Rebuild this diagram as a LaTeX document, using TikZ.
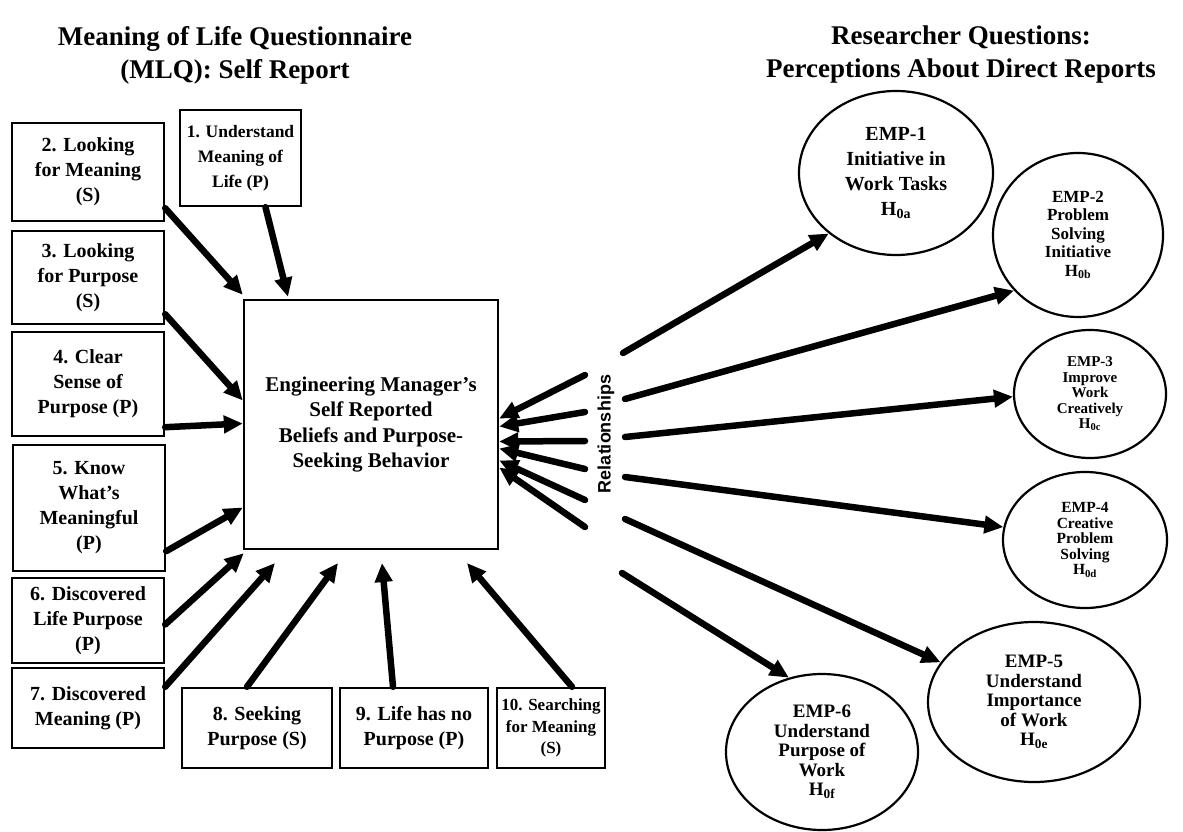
\documentclass[tikz,border=0pt]{standalone}
\usepackage{fontspec}
\setmainfont{Liberation Serif}
\newfontfamily\relfont{Liberation Sans}
\usetikzlibrary{arrows.meta,shapes.geometric}

\begin{document}
\begin{tikzpicture}[x=1pt,y=-1pt,
  qbox/.style={draw, line width=2.4pt, align=center, inner sep=0pt,
    font=\bfseries\fontsize{20}{25}\selectfont},
  emp/.style={draw, ellipse, line width=2.2pt, align=center, inner sep=0pt},
  link/.style={line width=6.5pt, line cap=round,
    -{Triangle[length=19pt,width=17pt]}},
  heading/.style={align=center, font=\bfseries\fontsize{27}{33}\selectfont}
]
\useasboundingbox (0,0) rectangle (1183,832);

% headings
\node[heading] (tl) at (235,55) {Meaning of Life Questionnaire\\(MLQ): Self Report};
\node[heading] (tr) at (961,55) {Researcher Questions:\\Perceptions About Direct Reports};

% central construct
\node[draw, line width=2.4pt, minimum width=254pt, minimum height=249pt,
  inner sep=0pt, align=center, font=\bfseries\fontsize{21}{25.5}\selectfont]
  (mgr) at (371,424.5)
  {Engineering Manager's\\Self Reported\\Beliefs and Purpose-\\Seeking Behavior};

% MLQ items
\node[qbox, minimum width=121pt, minimum height=96pt,
  font=\bfseries\fontsize{17.5}{25}\selectfont]        (b1) at (240.5,158) {1. Understand\\Meaning of\\Life (P)};
\node[qbox, minimum width=152pt, minimum height=98pt]  (b2) at (88,172)    {2. Looking\\for Meaning\\(S)};
\node[qbox, minimum width=152pt, minimum height=93pt]  (b3) at (88,277.5)  {3. Looking\\for Purpose\\(S)};
\node[qbox, minimum width=152pt, minimum height=104pt] (b4) at (88,384)    {4. Clear\\Sense of\\Purpose (P)};
\node[qbox, minimum width=152pt, minimum height=126pt] (b5) at (89,508)    {5. Know\\What's\\Meaningful\\(P)};
\node[qbox, minimum width=152pt, minimum height=85pt]  (b6) at (88,620.5)  {6. Discovered\\Life Purpose\\(P)};
\node[qbox, minimum width=152pt, minimum height=80pt]  (b7) at (88,708)    {7. Discovered\\Meaning (P)};
\node[qbox, minimum width=150pt, minimum height=80pt]  (b8) at (257,728)   {8. Seeking\\Purpose (S)};
\node[qbox, minimum width=148pt, minimum height=80pt]  (b9) at (414,728)   {9. Life has no\\Purpose (P)};
\node[qbox, minimum width=108pt, minimum height=80pt,
  font=\bfseries\fontsize{17}{21.5}\selectfont]        (b10) at (551,728) {10. Searching\\for Meaning\\(S)};

% item arrows into the construct
\coordinate (in7)  at (275,563);
\coordinate (in8)  at (338,563);
\coordinate (in9)  at (382,563);
\coordinate (in10) at (467,563);
\draw[link] ([xshift=25pt]b1.south) -- ([xshift=-83pt,yshift=2pt]mgr.north);
\draw[link] ([yshift=14pt]b2.south east) -- ([yshift=4pt]mgr.north west);
\draw[link] ([yshift=11pt]b3.south east) -- ([yshift=24pt]mgr.west);
\draw[link] ([yshift=10pt]b4.south east) -- ([yshift=1pt]mgr.west);
\draw[link] ([yshift=21pt]b5.south east) -- ([yshift=-83pt]mgr.west);
\draw[link] ([yshift=-4pt]b6.east) -- ([xshift=1pt,yshift=-3pt]mgr.south west);
\draw[link] ([yshift=-20pt]b7.north east) -- (in7);
\draw[link] ([xshift=-10pt]b8.north) -- (in8);
\draw[link] ([xshift=-21pt]b9.north) -- (in9);
\draw[link] ([xshift=21pt]b10.north) -- (in10);

% relationships label
\node[rotate=90, font=\relfont\bfseries\fontsize{18}{20}\selectfont] (rel) at (606,434) {Relationships};

% employee perception outcomes
\node[emp, minimum width=194pt, minimum height=164pt,
  font=\bfseries\fontsize{20}{25}\selectfont] (e1) at (896,173)
  {EMP-1\\Initiative in\\Work Tasks\\H\textsubscript{0a}};
\node[emp, minimum width=170pt, minimum height=164pt,
  font=\bfseries\fontsize{17}{18.5}\selectfont] (e2) at (1078,235)
  {EMP-2\\Problem\\Solving\\Initiative\\H\textsubscript{0b}};
\node[emp, minimum width=152pt, minimum height=128pt,
  font=\bfseries\fontsize{15}{15.5}\selectfont] (e3) at (1090,394)
  {EMP-3\\Improve\\Work\\Creatively\\H\textsubscript{0c}};
\node[emp, minimum width=164pt, minimum height=136pt,
  font=\bfseries\fontsize{15.5}{15.5}\selectfont] (e4) at (1085,540)
  {EMP-4\\Creative\\Problem\\Solving\\H\textsubscript{0d}};
\node[emp, minimum width=212pt, minimum height=160pt,
  font=\bfseries\fontsize{19}{19.5}\selectfont] (e5) at (1034,702)
  {EMP-5\\Understand\\Importance\\of Work\\H\textsubscript{0e}};
\node[emp, minimum width=192pt, minimum height=156pt,
  font=\bfseries\fontsize{19}{19.5}\selectfont] (e6) at (822,752)
  {EMP-6\\Understand\\Purpose of\\Work\\H\textsubscript{0f}};

% relationship arrows back into the construct
\coordinate (i1) at (585,375);
\coordinate (i2) at (585,412);
\coordinate (i3) at (585,441);
\coordinate (i4) at (585,469);
\coordinate (i5) at (585,500);
\coordinate (i6) at (585,527);
\draw[link] (i1) -- ([yshift=6pt]mgr.east);
\draw[link] (i2) -- ([yshift=-2pt]mgr.east);
\draw[link] (i3) -- ([yshift=-17pt]mgr.east);
\draw[link] (i4) -- ([yshift=-24pt]mgr.east);
\draw[link] (i5) -- ([yshift=-36pt]mgr.east);
\draw[link] (i6) -- ([yshift=-43pt]mgr.east);

% relationship arrows out to the outcomes
\coordinate (o1) at (623,353);
\coordinate (o2) at (625,399);
\coordinate (o3) at (625,437);
\coordinate (o4) at (625,477);
\coordinate (o5) at (625,519);
\coordinate (o6) at (622,573);
\draw[link] (o1) -- (e1.222);
\draw[link] (o2) -- (e2.221);
\draw[link] (o3) -- (e3.182);
\draw[link] (o4) -- (e4.171);
\draw[link] (o5) -- (e5.157);
\draw[link] (o6) -- (e6.114);
\end{tikzpicture}
\end{document}
